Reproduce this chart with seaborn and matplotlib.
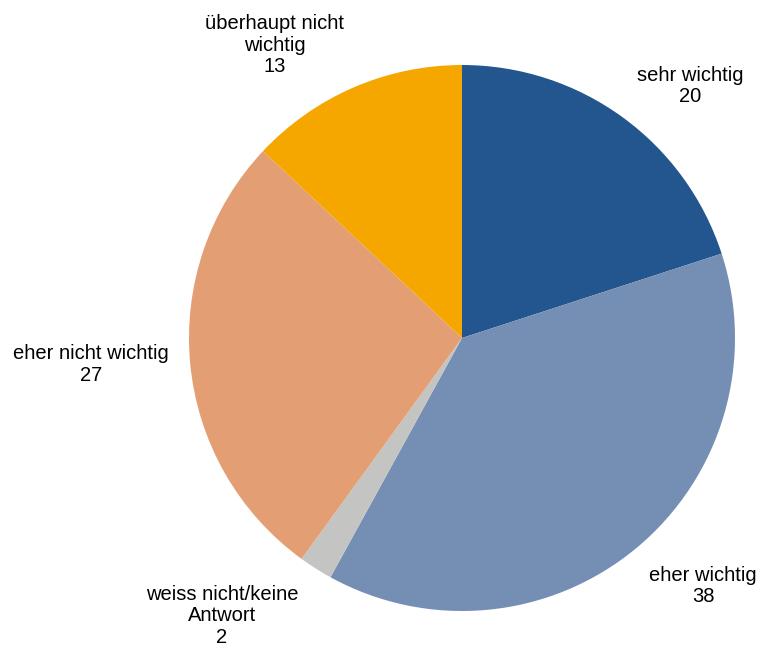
import matplotlib
matplotlib.use("Agg")
import matplotlib.pyplot as plt
import seaborn as sns

# Survey answers: how important is it?
categories = ["sehr wichtig", "eher wichtig", "weiss nicht/keine\nAntwort",
              "eher nicht wichtig", "überhaupt nicht\nwichtig"]
values = [20, 38, 2, 27, 13]
colors = ["#23558F", "#758EB3", "#C4C4C2", "#E39F73", "#F5A700"]

# Label anchors (in units of the pie radius, relative to its centre)
label_pos = [(0.835, 0.923), (0.883, -0.908), (-0.879, -1.018),
             (-1.359, -0.097), (-0.685, 1.073)]

sns.set_theme(style="white")
plt.rcParams["font.family"] = ["Liberation Sans", "DejaVu Sans"]

fig = plt.figure(figsize=(7.64, 6.48), dpi=100)
ax = fig.add_axes([0, 0, 1, 1])

wedges, _ = ax.pie(values, colors=colors, startangle=90, counterclock=False,
                   radius=1.0, wedgeprops=dict(linewidth=0))

for cat, val, (x, y) in zip(categories, values, label_pos):
    ax.text(x, y, f"{cat}\n{val}", ha="center", va="center",
            fontsize=14.5, color="black", linespacing=1.15)

ax.set_xlim(-462 / 273, (764 - 462) / 273)
ax.set_ylim((338 - 648) / 273, 338 / 273)
ax.set_aspect("equal")
ax.axis("off")

fig.savefig("out.png", dpi=100, facecolor="white")
